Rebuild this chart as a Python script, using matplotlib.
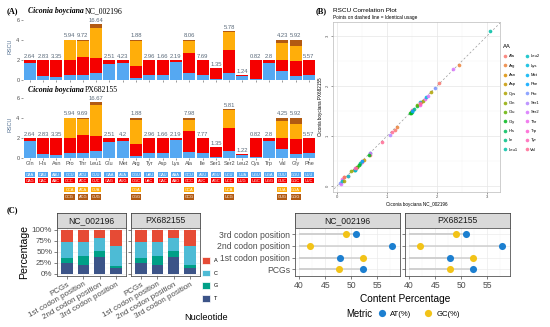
import numpy as np
import matplotlib
matplotlib.use("Agg")
import matplotlib.pyplot as plt
from matplotlib.patches import Rectangle, Patch
from matplotlib.lines import Line2D

# ---------------- data ----------------
amino_acids = ["Gln", "His", "Asn", "Pro", "Thr", "Leu1", "Glu", "Met", "Arg", "Tyr", "Asp",
               "Lys", "Ala", "Ile", "Ser1", "Ser2", "Leu2", "Cys", "Trp", "Val", "Gly", "Phe"]
codons = [["CAA", "CAG"], ["CAU", "CAC"], ["AAU", "AAC"], ["CCU", "CCC", "CCA", "CCG"],
          ["ACU", "ACC", "ACA", "ACG"], ["CUU", "CUC", "CUA", "CUG"], ["GAA", "GAG"],
          ["AUA", "AUG"], ["CGU", "CGC", "CGA", "CGG"], ["UAU", "UAC"], ["GAU", "GAC"],
          ["AAA", "AAG"], ["GCU", "GCC", "GCA", "GCG"], ["AUU", "AUC"], ["AGU", "AGC"],
          ["UCU", "UCC", "UCA", "UCG"], ["UUA", "UUG"], ["UGU", "UGC"], ["UGA", "UGG"],
          ["GUU", "GUC", "GUA", "GUG"], ["GGU", "GGC", "GGA", "GGG"], ["UUU", "UUC"]]
rscu_nc = [[1.72, 0.28], [0.40, 1.60], [0.33, 1.67], [0.46, 1.52, 1.96, 0.06],
           [0.50, 1.75, 1.65, 0.10], [0.66, 1.49, 3.05, 0.35], [1.60, 0.40], [1.65, 0.35],
           [0.22, 1.20, 2.44, 0.14], [0.50, 1.50], [0.53, 1.47], [1.78, 0.22],
           [0.66, 2.04, 1.16, 0.14], [0.46, 1.54], [0.10, 1.05], [0.66, 2.31, 1.81, 0.07],
           [0.35, 0.10], [0.13, 1.87], [1.65, 0.35], [0.89, 1.09, 1.65, 0.37],
           [0.43, 1.48, 1.46, 0.63], [0.50, 1.50]]
rscu_px = [[1.70, 0.30], [0.39, 1.61], [0.32, 1.68], [0.45, 1.53, 1.96, 0.06],
           [0.50, 1.74, 1.62, 0.14], [0.66, 1.48, 3.10, 0.34], [1.62, 0.38], [1.68, 0.32],
           [0.21, 1.19, 2.42, 0.18], [0.48, 1.52], [0.52, 1.48], [1.79, 0.21],
           [0.63, 2.07, 1.12, 0.18], [0.46, 1.54], [0.10, 1.02], [0.66, 2.34, 1.81, 0.05],
           [0.32, 0.10], [0.11, 1.89], [1.64, 0.36], [0.89, 1.08, 1.66, 0.37],
           [0.43, 1.47, 1.47, 0.63], [0.50, 1.50]]
aa_pct_nc = ["2.64", "2.83", "3.35", "5.94", "9.72", "16.64", "2.51", "4.23", "1.88", "2.96", "1.66",
             "2.19", "8.06", "7.69", "1.35", "5.78", "1.24", "0.82", "2.8", "4.23", "5.92", "5.57"]
aa_pct_px = ["2.64", "2.83", "3.35", "5.94", "9.69", "16.67", "2.51", "4.2", "1.88", "2.96", "1.66",
             "2.19", "7.98", "7.77", "1.35", "5.81", "1.22", "0.82", "2.8", "4.25", "5.92", "5.57"]

positions = ["PCGs", "1st codon position", "2nd codon position", "3rd codon position"]
nucleotides = ["A", "C", "G", "T"]
nc_A = [28.5, 28.7, 19.0, 38.0]
nc_C = [35.1, 30.2, 29.6, 43.2]
nc_G = [12.6, 22.0, 12.5, 5.8]
nc_T = [23.8, 19.1, 38.9, 13.0]
px_A = [28.4, 28.7, 19.0, 37.9]
px_C = [35.1, 30.2, 29.6, 43.1]
px_G = [12.7, 22.0, 12.5, 5.9]
px_T = [23.8, 19.1, 38.9, 13.1]
samples = ["NC_002196", "PX682155"]

# ---------------- style ----------------
W, H = 550, 327
plt.rcParams['font.family'] = ['Liberation Sans', 'DejaVu Sans']
fig = plt.figure(figsize=(W / 100, H / 100), dpi=100)
SERIF = 'Liberation Serif'
seg_colors = ["#55A8F2", "#F50000", "#FFAE0A", "#B25A12"]
lab_col = "#5A6A7A"
tick_col = "#4D4D4D"
nuc_colors = {"A": "#E64B35", "C": "#4DBBD5", "G": "#00A087", "T": "#3C5488"}
at_col, gc_col = "#1C7FD0", "#F2C318"


def box(l, t, w, h):
    return [l / W, 1 - (t + h) / H, w / W, h / H]


def hcl(h, c=100.0, l=65.0):
    hr = np.deg2rad(h)
    U, V = c * np.cos(hr), c * np.sin(hr)
    Xn, Yn, Zn = 95.047, 100.0, 108.883
    un = 4 * Xn / (Xn + 15 * Yn + 3 * Zn)
    vn = 9 * Yn / (Xn + 15 * Yn + 3 * Zn)
    Y = Yn * ((l + 16) / 116) ** 3
    up = U / (13 * l) + un
    vp = V / (13 * l) + vn
    X = 9 * Y * up / (4 * vp)
    Z = -X / 3 - 5 * Y + 3 * Y / vp
    M = np.array([[3.2404542, -1.5371385, -0.4985314],
                  [-0.9692660, 1.8760108, 0.0415560],
                  [0.0556434, -0.2040259, 1.0572252]])
    rgb = M @ np.array([X, Y, Z]) / 100
    rgb = np.clip(rgb, 0, None)
    rgb = np.where(rgb <= 0.0031308, 12.92 * rgb, 1.055 * rgb ** (1 / 2.4) - 0.055)
    return tuple(np.clip(rgb, 0, 1))


# ---------------- panel A ----------------
ncol = len(amino_acids)
xs = np.arange(ncol)
AX_L, AX_W = 23, 292.6


def draw_bars(ax, vals, labels, show_labels):
    for k in range(4):
        hts = [v[k] if k < len(v) else 0 for v in vals]
        bots = [sum(v[:k]) for v in vals]
        ax.bar(xs, hts, bottom=bots, width=0.9, color=seg_colors[k], edgecolor='none')
    for xi, v, lab in zip(xs, vals, labels):
        ax.text(xi, sum(v) + 0.12, lab, ha='center', va='bottom', fontsize=4.2, color=lab_col)
    ax.set_xlim(-0.5, ncol - 0.5)
    ax.set_ylim(0, 6.7)
    ax.set_yticks([0, 2, 4, 6])
    ax.set_xticks(xs)
    if show_labels:
        ax.set_xticklabels(amino_acids)
    else:
        ax.set_xticklabels([])
    ax.tick_params(labelsize=4, colors=tick_col, length=1.5, width=0.4, pad=1)
    for s in ax.spines.values():
        s.set_visible(False)
    ax.set_ylabel("RSCU", fontsize=4, color="#4F6D8F", labelpad=3)


ax_a1 = fig.add_axes(box(AX_L, 12.5, AX_W, 67.5))
draw_bars(ax_a1, rscu_nc, aa_pct_nc, False)
ax_a2 = fig.add_axes(box(AX_L, 90.5, AX_W, 67.5))
draw_bars(ax_a2, rscu_px, aa_pct_px, True)

for ty, sid in [(11, samples[0]), (90, samples[1])]:
    fig.text(28 / W, 1 - ty / H, "Ciconia boyciana", fontsize=5.6, family=SERIF, style='italic',
             weight='bold', va='center')
    fig.text(85 / W, 1 - ty / H, sid, fontsize=5.6, family=SERIF, va='center')
fig.text(7 / W, 1 - 11 / H, "(A)", fontsize=6, family=SERIF, weight='bold', va='center')

# codon table
ax_c = fig.add_axes(box(AX_L, 171, AX_W, 30))
ax_c.set_xlim(-0.5, ncol - 0.5)
ax_c.set_ylim(201, 171)
ax_c.axis('off')
row_y = [174.7, 180.6, 189.6, 197.0]
for xi, cl in zip(xs, codons):
    for k, cd in enumerate(cl):
        ax_c.add_patch(Rectangle((xi - 0.38, row_y[k] - 2.7), 0.76, 5.4, color=seg_colors[k], lw=0))
        ax_c.text(xi, row_y[k], cd, ha='center', va='center', fontsize=2.9, color='white')

# ---------------- panel B ----------------
ax_b = fig.add_axes(box(333, 22, 167, 170))
aa_sorted = sorted(amino_acids)
hues = np.linspace(15, 375, len(aa_sorted) + 1)[:-1]
aa_col = {aa: hcl(h) for aa, h in zip(aa_sorted, hues)}
for aa, cl, vn, vp in zip(amino_acids, codons, rscu_nc, rscu_px):
    ax_b.scatter(vn, vp, s=7, color=aa_col[aa], alpha=0.85, lw=0, zorder=3)
ax_b.plot([-1, 4], [-1, 4], ls=(0, (3, 3)), color="#9A9A9A", lw=0.5, zorder=2)
ax_b.set_xlim(-0.08, 3.26)
ax_b.set_ylim(-0.12, 3.28)
ax_b.set_xticks([0, 1, 2, 3])
ax_b.set_yticks([0, 1, 2, 3])
ax_b.set_xticks([0.5, 1.5, 2.5], minor=True)
ax_b.set_yticks([0.5, 1.5, 2.5], minor=True)
ax_b.grid(True, which='major', color="#E6E6E6", lw=0.5)
ax_b.grid(True, which='minor', color="#F2F2F2", lw=0.3)
ax_b.set_axisbelow(True)
ax_b.tick_params(labelsize=3, colors=tick_col, length=1.5, width=0.4, pad=1)
ax_b.tick_params(which='minor', length=0)
for lab in ax_b.get_yticklabels():
    lab.set_rotation(90)
    lab.set_va('center')
for s in ax_b.spines.values():
    s.set_color("#BBBBBB")
    s.set_linewidth(0.5)
ax_b.set_xlabel("Ciconia boyciana NC_002196", fontsize=3.3, labelpad=1.5)
ax_b.set_ylabel("Ciconia boyciana PX682155", fontsize=3.3, labelpad=1.5)
fig.text(316 / W, 1 - 11 / H, "(B)", fontsize=6, family=SERIF, weight='bold', va='center')
fig.text(333 / W, 1 - 10.5 / H, "RSCU Correlation Plot", fontsize=4.6, va='center')
fig.text(333 / W, 1 - 18 / H, "Points on dashed line = Identical usage", fontsize=3.4, va='center')
handles = [Line2D([], [], marker='o', ls='', color=aa_col[a], markersize=2.6, alpha=0.85, mew=0)
           for a in aa_sorted]
leg = ax_b.legend(handles, aa_sorted, ncol=2, title="AA", loc='upper left',
                  bbox_to_anchor=(503 / W, 1 - 44 / H), bbox_transform=fig.transFigure,
                  frameon=False, fontsize=3, title_fontsize=4.2, alignment='left',
                  handletextpad=0.4, columnspacing=1.6, labelspacing=1.28, handlelength=1.0,
                  borderaxespad=0, borderpad=0)

# ---------------- panel C (left) ----------------
fig.text(7 / W, 1 - 210 / H, "(C)", fontsize=6, family=SERIF, weight='bold', va='center')
comp = {samples[0]: {"A": nc_A, "C": nc_C, "G": nc_G, "T": nc_T},
        samples[1]: {"A": px_A, "C": px_C, "G": px_G, "T": px_T}}
xp = np.arange(len(positions))


def strip(l, t, w, h, txt):
    a = fig.add_axes(box(l, t, w, h))
    a.set_facecolor("#D9D9D9")
    a.set_xticks([])
    a.set_yticks([])
    for s in a.spines.values():
        s.set_color("#444444")
        s.set_linewidth(0.6)
    a.text(0.5, 0.5, txt, ha='center', va='center', fontsize=6.2, color="#1A1A1A",
           transform=a.transAxes)


def frame(ax):
    for s in ax.spines.values():
        s.set_color("#555555")
        s.set_linewidth(0.6)


left_boxes = [(57, 69), (131, 69)]
for i, (smp, (l, w)) in enumerate(zip(samples, left_boxes)):
    strip(l, 213, w, 14.5, smp)
    ax = fig.add_axes(box(l, 227.5, w, 48.5))
    bottom = np.zeros(len(positions))
    for nt in ["T", "G", "C", "A"]:
        v = np.array(comp[smp][nt]) / 100
        ax.bar(xp, v, bottom=bottom, width=0.7, color=nuc_colors[nt], lw=0, zorder=3)
        bottom += v
    ax.set_xlim(-0.6, 3.6)
    ax.set_ylim(-0.05, 1.05)
    ax.set_yticks([0, 0.25, 0.5, 0.75, 1.0])
    ax.set_yticks([0.125, 0.375, 0.625, 0.875], minor=True)
    ax.grid(True, which='major', color="#EBEBEB", lw=0.5)
    ax.grid(True, which='minor', axis='y', color="#F4F4F4", lw=0.3)
    ax.set_axisbelow(True)
    ax.set_xticks(xp)
    ax.set_xticklabels(positions, rotation=30, ha='right', rotation_mode='anchor')
    ax.tick_params(labelsize=5.8, colors=tick_col, length=2, width=0.5, pad=1.5)
    ax.tick_params(which='minor', length=0)
    if i == 0:
        ax.set_yticklabels(["0%", "25%", "50%", "75%", "100%"])
        ax.set_ylabel("Percentage", fontsize=7.6, labelpad=2)
    else:
        ax.set_yticklabels([])
    frame(ax)

nuc_handles = [Patch(facecolor=nuc_colors[n], edgecolor='white', lw=0.5) for n in nucleotides]
fig.legend(nuc_handles, nucleotides, loc='upper left', bbox_to_anchor=(202 / W, 1 - 257 / H),
           frameon=False, fontsize=4, handlelength=1.5, handleheight=1.5, labelspacing=1.05,
           handletextpad=0.6, borderpad=0, borderaxespad=0)
fig.text(206 / W, 1 - 317 / H, "Nucleotide", fontsize=6.6, ha='center', va='center')

# ---------------- panel C (right) ----------------
right_boxes = [(295, 105), (405, 105)]
for i, (smp, (l, w)) in enumerate(zip(samples, right_boxes)):
    strip(l, 213, w, 14.5, smp)
    ax = fig.add_axes(box(l, 227.5, w, 48.5))
    at = np.array(comp[smp]["A"]) + np.array(comp[smp]["T"])
    gc = np.array(comp[smp]["G"]) + np.array(comp[smp]["C"])
    ax.hlines(xp, 40, at, color="#CFCFCF", lw=1.1, zorder=2)
    ax.hlines(xp, 40, gc, color="#CFCFCF", lw=1.1, zorder=2)
    ax.scatter(at, xp, s=26, color=at_col, lw=0, zorder=3)
    ax.scatter(gc, xp, s=26, color=gc_col, lw=0, zorder=3)
    ax.set_xlim(39.2, 59.4)
    ax.set_ylim(-0.6, 3.6)
    ax.set_xticks([40, 45, 50, 55])
    ax.set_xticks([42.5, 47.5, 52.5, 57.5], minor=True)
    ax.set_yticks(xp)
    ax.grid(True, which='major', color="#EBEBEB", lw=0.5)
    ax.grid(True, which='minor', axis='x', color="#F4F4F4", lw=0.3)
    ax.set_axisbelow(True)
    ax.tick_params(labelsize=6.2, colors=tick_col, length=2, width=0.5, pad=1.5)
    ax.tick_params(which='minor', length=0)
    if i == 0:
        ax.set_yticklabels(positions)
    else:
        ax.set_yticklabels([])
    frame(ax)

fig.text(405 / W, 1 - 299 / H, "Content Percentage", fontsize=7.3, ha='center', va='center')
fig.text(346 / W, 1 - 314 / H, "Metric", fontsize=6.9, ha='left', va='center')
met_handles = [Line2D([], [], marker='o', ls='', color=c, markersize=5.2, mew=0) for c in (at_col, gc_col)]
fig.legend(met_handles, ["AT(%)", "GC(%)"], ncol=2, loc='center left',
           bbox_to_anchor=(377 / W, 1 - 314 / H), frameon=False, fontsize=5.6,
           handlelength=1.2, handletextpad=0.5, columnspacing=1.5, borderpad=0, borderaxespad=0)

fig.savefig("out.png", dpi=100)
